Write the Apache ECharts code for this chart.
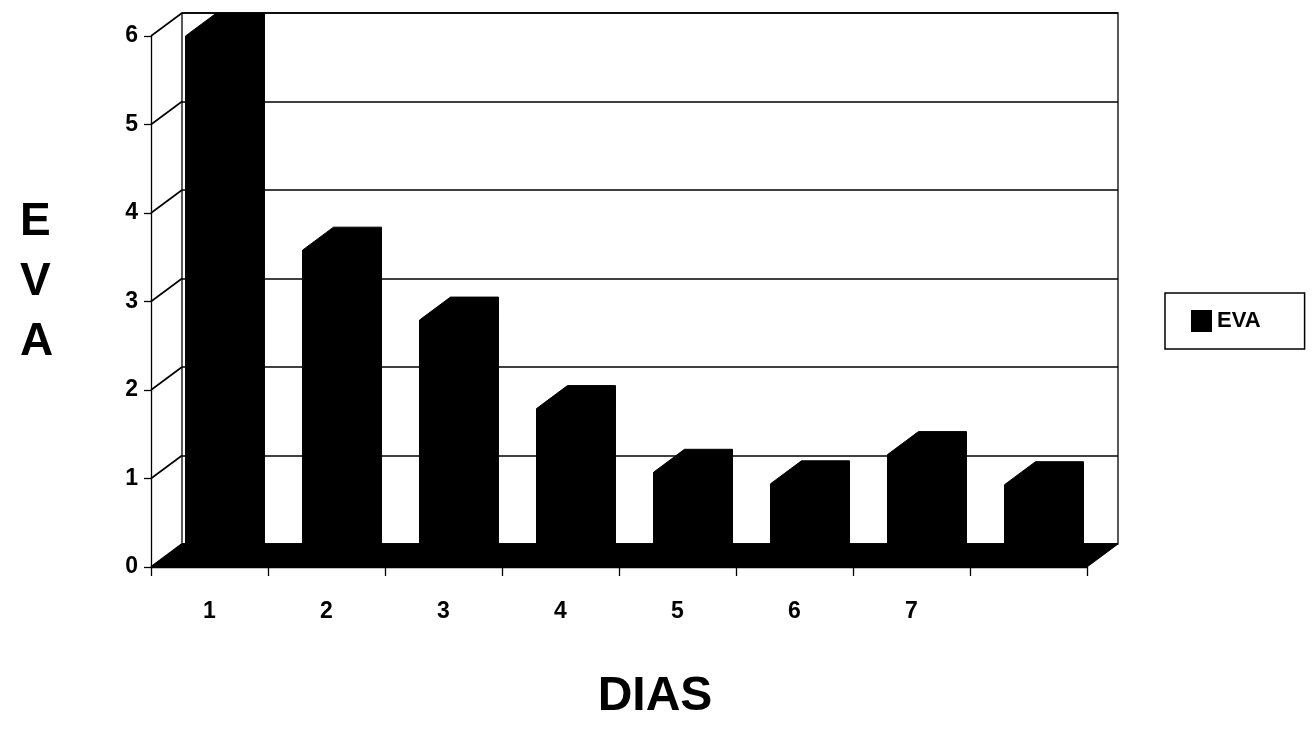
<!DOCTYPE html>
<html>
<head>
<meta charset="utf-8">
<script src="https://cdn.jsdelivr.net/npm/echarts@6/dist/echarts.min.js"></script>
<style>html,body{margin:0;padding:0;background:#fff}#c{width:1315px;height:730px}</style>
</head>
<body>
<div id="c"></div>
<script>
const categories = ['1', '2', '3', '4', '5', '6', '7', ''];
const evaValues = [6.0, 3.58, 2.79, 1.79, 1.07, 0.94, 1.27, 0.93];
const yTicks = [0, 1, 2, 3, 4, 5, 6];
const seriesName = 'EVA';
const xTitle = 'DIAS';
const yTitle = 'E\nV\nA';

const FRONT = {left: 151, right: 228, top: 36, bottom: 163};
const BACK = {left: 182, right: 197, top: 13, bottom: 186};
const DX = BACK.left - FRONT.left;
const DY = BACK.top - FRONT.top;
const FONT = 'Liberation Sans, Arial, sans-serif';

const chart = echarts.init(document.getElementById('c'), null, {renderer: 'canvas'});
chart.setOption({
  backgroundColor: '#fff',
  animation: false,
  grid: [
    Object.assign({show: false, containLabel: false}, FRONT),
    Object.assign({show: true, borderColor: '#000', borderWidth: 1.3, backgroundColor: 'transparent', containLabel: false}, BACK)
  ],
  xAxis: [
    {
      type: 'category', gridIndex: 0, data: categories,
      axisLine: {show: true, lineStyle: {color: '#000', width: 1.3}},
      axisTick: {show: true, length: 9, lineStyle: {color: '#000', width: 1.3}},
      axisLabel: {color: '#000', fontFamily: FONT, fontWeight: 'bold', fontSize: 23, margin: 33},
      splitLine: {show: false}
    },
    {
      type: 'category', gridIndex: 1, data: categories, show: false
    }
  ],
  yAxis: [
    {
      type: 'value', gridIndex: 0, min: 0, max: 6, interval: 1,
      axisLine: {show: true, lineStyle: {color: '#000', width: 1.3}},
      axisTick: {show: true, length: 7, lineStyle: {color: '#000', width: 1.3}},
      axisLabel: {color: '#000', fontFamily: FONT, fontWeight: 'bold', fontSize: 23, margin: 13,
        formatter: v => yTicks.indexOf(v) >= 0 ? String(v) : ''},
      splitLine: {show: false}
    },
    {
      type: 'value', gridIndex: 1, min: 0, max: 6, interval: 1,
      axisLine: {show: false}, axisTick: {show: false}, axisLabel: {show: false},
      splitLine: {show: true, lineStyle: {color: '#000', width: 1.6}}
    }
  ],
  legend: {
    left: 1165, top: 293,
    orient: 'vertical',
    padding: [17, 44, 17, 26],
    borderColor: '#000', borderWidth: 1.5,
    itemWidth: 21, itemHeight: 22,
    data: [{name: seriesName, icon: 'rect'}],
    textStyle: {color: '#000', fontFamily: FONT, fontWeight: 'bold', fontSize: 22}
  },
  graphic: [
    {type: 'text', left: 20, top: 192, style: {text: yTitle, font: 'bold 46px ' + FONT, fill: '#000', lineHeight: 60, align: 'center'}},
    {type: 'text', x: 655, y: 697, style: {text: xTitle, font: 'bold 48px ' + FONT, fill: '#000', align: 'center', verticalAlign: 'middle'}}
  ],
  series: [
    {
      type: 'custom', name: 'env', xAxisIndex: 0, yAxisIndex: 0, z: 1, silent: true,
      data: [[0, 0]],
      renderItem: function (params, api) {
        const cs = params.coordSys;
        const x0 = cs.x, x1 = cs.x + cs.width, yb = cs.y + cs.height;
        const children = [];
        yTicks.forEach(function (v) {
          const y = api.coord([0, v])[1];
          children.push({type: 'line', shape: {x1: x0, y1: y, x2: x0 + DX, y2: y + DY},
            style: {stroke: '#000', lineWidth: 1.6}});
        });
        children.push({type: 'polygon', shape: {points: [[x0, yb], [x1, yb], [x1 + DX, yb + DY], [x0 + DX, yb + DY]]},
          style: {fill: '#000', stroke: '#000', lineWidth: 1}});
        return {type: 'group', children: children};
      }
    },
    {
      type: 'custom', name: seriesName, xAxisIndex: 0, yAxisIndex: 0, z: 3,
      itemStyle: {color: '#000'},
      data: evaValues.map((v, i) => [i, v]),
      renderItem: function (params, api) {
        const i = api.value(0), v = api.value(1);
        const top = api.coord([i, v]);
        const bot = api.coord([i, 0]);
        const w = api.size([1, 0])[0] * 0.41;
        const xl = top[0] - w / 2, xr = top[0] + w / 2;
        const yt = top[1], yb = bot[1];
        return {
          type: 'polygon',
          shape: {points: [[xl, yt], [xl + DX, yt + DY], [xr + DX, yt + DY], [xr + DX, yb + DY], [xr, yb], [xl, yb]]},
          style: {fill: '#000', stroke: '#000', lineWidth: 1}
        };
      }
    }
  ]
});
</script>
</body>
</html>
